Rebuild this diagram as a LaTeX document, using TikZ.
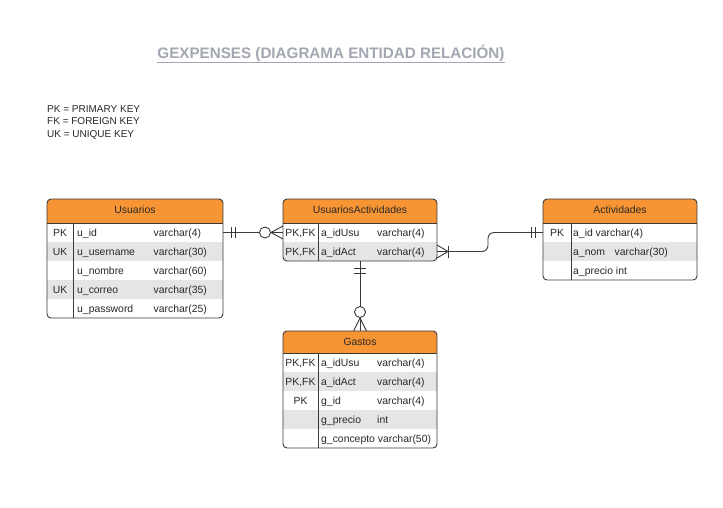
\documentclass[tikz,border=0pt]{standalone}
\usepackage{fontspec}
\setmainfont{Liberation Sans}
\usetikzlibrary{calc}
\definecolor{hdr}{RGB}{247,148,51}
\definecolor{rowg}{RGB}{229,229,229}
\definecolor{edge}{RGB}{58,58,58}
\definecolor{ink}{RGB}{40,40,40}
\definecolor{ttl}{RGB}{163,167,178}
\tikzset{
  tframe/.style={draw=edge, line width=0.9pt, rounded corners=4pt, inner sep=0pt, outer sep=0pt, anchor=north west},
  rowbox/.style={inner sep=0pt, outer sep=0pt, anchor=north west, minimum height=19pt},
  txt/.style={inner sep=0pt, anchor=base west, text=ink, font=\fontsize{10.4}{12}\selectfont},
  ctxt/.style={txt, anchor=base},
  legend/.style={inner sep=0pt, anchor=base west, text=ink, font=\fontsize{10}{11}\selectfont},
  sepline/.style={draw=edge, line width=0.9pt},
  conn/.style={draw=edge, line width=0.9pt},
  crowcirc/.style={draw=edge, line width=0.9pt, fill=white},
}
\begin{document}
\begin{tikzpicture}[x=1pt,y=-1pt]
\useasboundingbox (0,0) rectangle (723,507);
\fill[white] (0,0) rectangle (723,507);

% ---------- title and legend
\node[inner sep=0pt, anchor=base, text=ttl, font=\fontsize{15.2}{18}\selectfont\bfseries] (title) at (331,58.5) {GEXPENSES (DIAGRAMA ENTIDAD RELACIÓN)};
\draw[ttl, line width=1pt] ($(title.base west)+(0,4)$) -- ($(title.base east)+(0,4)$);
\node[legend] (lg1) at (47,112.6) {PK = PRIMARY KEY};
\node[legend] (lg2) at (47,124.9) {FK = FOREIGN KEY};
\node[legend] (lg3) at (47,137.2) {UK = UNIQUE KEY};

% ---------- Usuarios
\begin{scope}
  \clip[rounded corners=4pt] (47,199) rectangle (223,318);
  \fill[hdr] (47,199) rectangle (223,223);
  \fill[rowg] (47,242) rectangle (223,261);
  \fill[rowg] (47,280) rectangle (223,299);
\end{scope}
\node[tframe, minimum width=176pt, minimum height=119pt] (usu) at (47,199) {};
\draw[sepline] (47,223) -- (223,223);
\draw[sepline] (73,223) -- (73,318);
\node[rowbox, minimum width=176pt] (usu-r1) at (47,223) {};
\node[ctxt] (usu-h) at (135,213.8) {Usuarios};
\node[ctxt] (usu-k1) at (60,236) {PK};
\node[txt] (usu-f1) at (77,236) {u\_id};
\node[txt] (usu-t1) at (153.5,236) {varchar(4)};
\node[ctxt] (usu-k2) at (60,255) {UK};
\node[txt] (usu-f2) at (77,255) {u\_username};
\node[txt] (usu-t2) at (153.5,255) {varchar(30)};
\node[txt] (usu-f3) at (77,274) {u\_nombre};
\node[txt] (usu-t3) at (153.5,274) {varchar(60)};
\node[ctxt] (usu-k4) at (60,293) {UK};
\node[txt] (usu-f4) at (77,293) {u\_correo};
\node[txt] (usu-t4) at (153.5,293) {varchar(35)};
\node[txt] (usu-f5) at (77,312) {u\_password};
\node[txt] (usu-t5) at (153.5,312) {varchar(25)};

% ---------- UsuariosActividades
\begin{scope}
  \clip[rounded corners=4pt] (283,199) rectangle (437,261);
  \fill[hdr] (283,199) rectangle (437,223);
  \fill[rowg] (283,242) rectangle (437,261);
\end{scope}
\node[tframe, minimum width=154pt, minimum height=62pt] (ua) at (283,199) {};
\draw[sepline] (283,223) -- (437,223);
\draw[sepline] (318,223) -- (318,261);
\node[rowbox, minimum width=154pt] (ua-r1) at (283,223) {};
\node[rowbox, minimum width=154pt] (ua-r2) at (283,242) {};
\node[ctxt] (ua-h) at (360,213.8) {UsuariosActividades};
\node[ctxt] (ua-k1) at (300.5,236) {PK,FK};
\node[txt] (ua-f1) at (321,236) {a\_idUsu};
\node[txt] (ua-t1) at (377,236) {varchar(4)};
\node[ctxt] (ua-k2) at (300.5,255) {PK,FK};
\node[txt] (ua-f2) at (321,255) {a\_idAct};
\node[txt] (ua-t2) at (377,255) {varchar(4)};

% ---------- Actividades
\begin{scope}
  \clip[rounded corners=4pt] (543,199) rectangle (697,280);
  \fill[hdr] (543,199) rectangle (697,223);
  \fill[rowg] (543,242) rectangle (697,261);
\end{scope}
\node[tframe, minimum width=154pt, minimum height=81pt] (act) at (543,199) {};
\draw[sepline] (543,223) -- (697,223);
\draw[sepline] (571,223) -- (571,280);
\node[rowbox, minimum width=154pt] (act-r1) at (543,223) {};
\node[ctxt] (act-h) at (620,213.8) {Actividades};
\node[ctxt] (act-k1) at (557,236) {PK};
\node[txt] (act-f1) at (573,236) {a\_id varchar(4)};
\node[txt] (act-f2) at (573,255) {a\_nom};
\node[txt] (act-t2) at (614.5,255) {varchar(30)};
\node[txt] (act-f3) at (573,274) {a\_precio int};

% ---------- Gastos
\begin{scope}
  \clip[rounded corners=4pt] (283,331) rectangle (437,448);
  \fill[hdr] (283,331) rectangle (437,353);
  \fill[rowg] (283,372) rectangle (437,391);
  \fill[rowg] (283,410) rectangle (437,429);
\end{scope}
\node[tframe, minimum width=154pt, minimum height=117pt] (gas) at (283,331) {};
\draw[sepline] (283,353) -- (437,353);
\draw[sepline] (318,353) -- (318,448);
\node[ctxt] (gas-h) at (360,345.6) {Gastos};
\node[ctxt] (gas-k1) at (300.5,366) {PK,FK};
\node[txt] (gas-f1) at (321,366) {a\_idUsu};
\node[txt] (gas-t1) at (377,366) {varchar(4)};
\node[ctxt] (gas-k2) at (300.5,385) {PK,FK};
\node[txt] (gas-f2) at (321,385) {a\_idAct};
\node[txt] (gas-t2) at (377,385) {varchar(4)};
\node[ctxt] (gas-k3) at (300.5,404) {PK};
\node[txt] (gas-f3) at (321,404) {g\_id};
\node[txt] (gas-t3) at (377,404) {varchar(4)};
\node[txt] (gas-f4) at (321,423) {g\_precio};
\node[txt] (gas-t4) at (377,423) {int};
\node[txt] (gas-f5) at (321,442) {g\_concepto varchar(50)};

% ---------- connectors
% Usuarios (one and only one) -- UsuariosActividades (zero or many)
\draw[conn] (usu-r1.east) -- (ua-r1.west);
\draw[conn] ($(usu-r1.east)+(8,-5.5)$) -- ++(0,11);
\draw[conn] ($(usu-r1.east)+(12,-5.5)$) -- ++(0,11);
\draw[conn] ($(ua-r1.west)+(-12,0)$) -- ($(ua-r1.west)+(0,-6.5)$);
\draw[conn] ($(ua-r1.west)+(-12,0)$) -- ($(ua-r1.west)+(0,6.5)$);
\node[crowcirc, circle, inner sep=0pt, minimum size=11pt] (c1) at ($(ua-r1.west)+(-18,0)$) {};

% UsuariosActividades (one or many) -- Actividades (one and only one)
\draw[conn, rounded corners=6pt] (ua-r2.east) -- ($(ua-r2.east)+(51,0)$) |- (act-r1.west);
\draw[conn] ($(ua-r2.east)+(11,0)$) -- ($(ua-r2.east)+(0,-6.5)$);
\draw[conn] ($(ua-r2.east)+(11,0)$) -- ($(ua-r2.east)+(0,6.5)$);
\draw[conn] ($(ua-r2.east)+(11,-6)$) -- ++(0,12);
\draw[conn] ($(act-r1.west)+(-12,-5.5)$) -- ++(0,11);
\draw[conn] ($(act-r1.west)+(-8,-5.5)$) -- ++(0,11);

% UsuariosActividades (one and only one) -- Gastos (zero or many)
\draw[conn] (ua.south) -- (gas.north);
\draw[conn] ($(ua.south)+(-6,7)$) -- ++(12,0);
\draw[conn] ($(ua.south)+(-6,12)$) -- ++(12,0);
\draw[conn] ($(gas.north)+(0,-13)$) -- ($(gas.north)+(-6.5,0)$);
\draw[conn] ($(gas.north)+(0,-13)$) -- ($(gas.north)+(6.5,0)$);
\node[crowcirc, circle, inner sep=0pt, minimum size=11pt] (c2) at ($(gas.north)+(0,-19)$) {};
\end{tikzpicture}
\end{document}
